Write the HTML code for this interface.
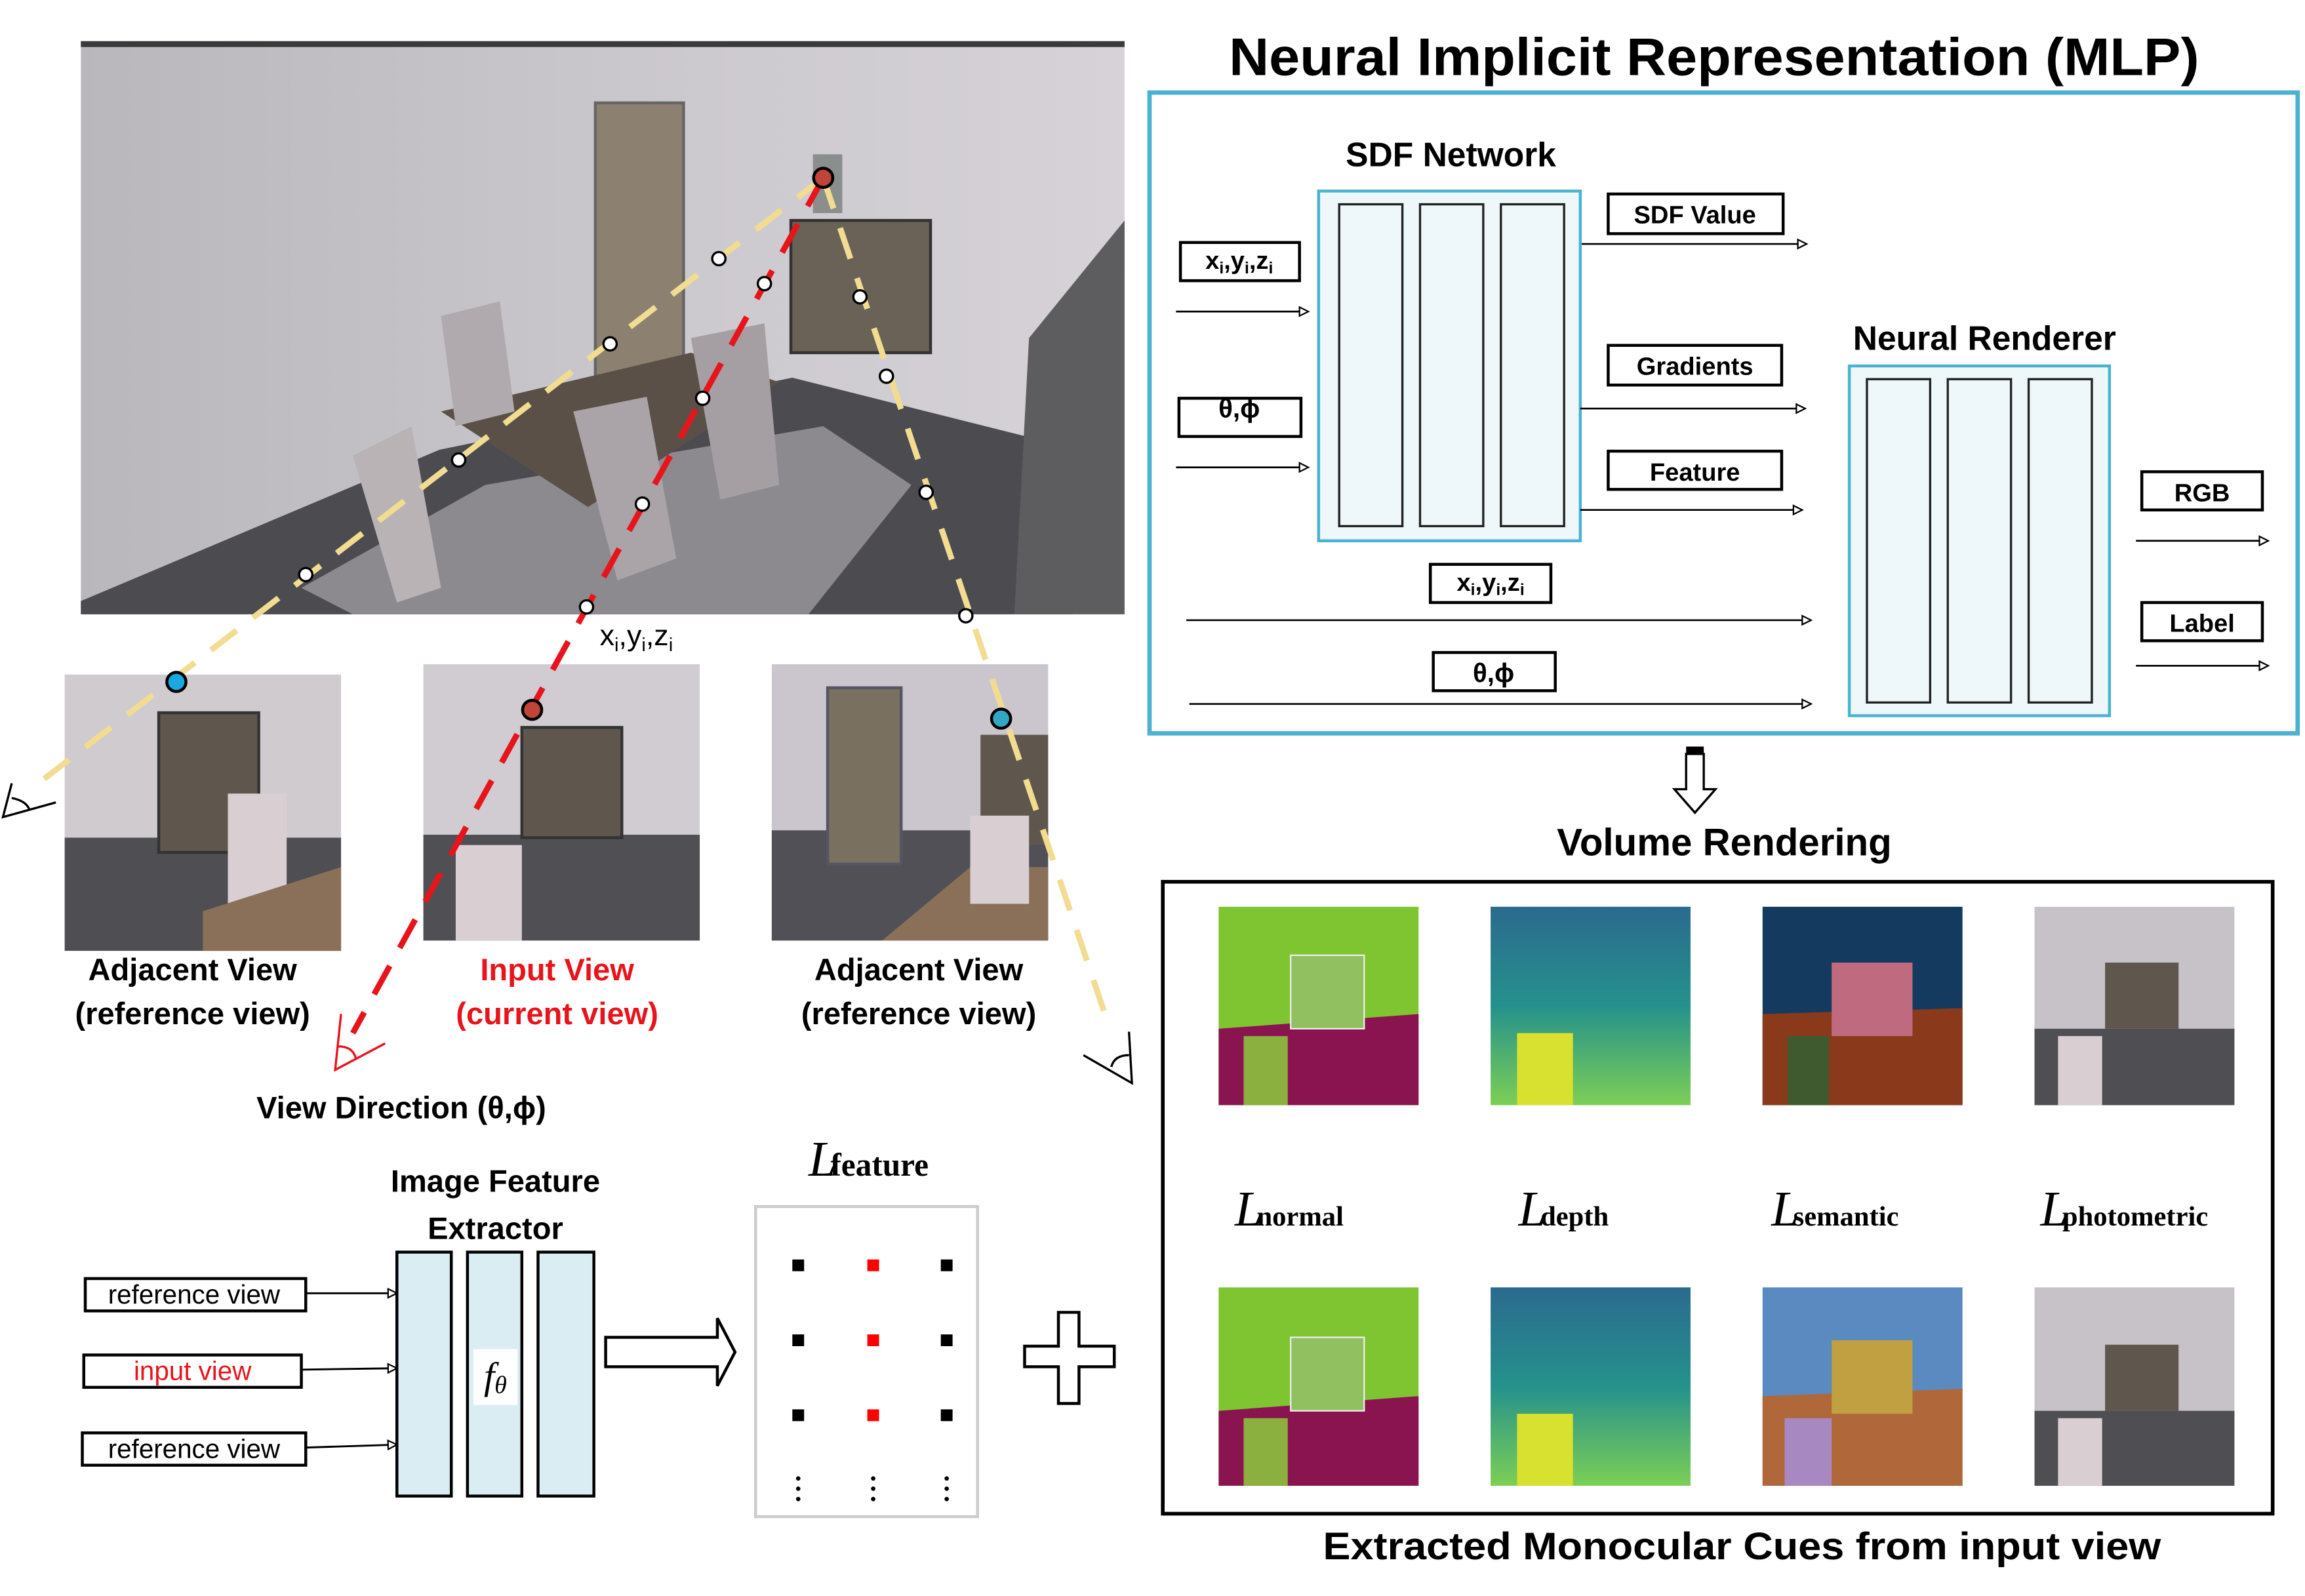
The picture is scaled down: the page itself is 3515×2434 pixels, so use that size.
<!DOCTYPE html>
<html><head><meta charset="utf-8"><style>
html,body{margin:0;padding:0;background:#fff}
svg{display:block}
text{font-family:"Liberation Sans",sans-serif}
text.s, text.s tspan{font-family:"Liberation Serif",serif}
</style></head><body>
<svg width="3515" height="2434" viewBox="0 0 1568 1086" preserveAspectRatio="none" xmlns="http://www.w3.org/2000/svg">
<defs>
<marker id="ah" markerWidth="8" markerHeight="8" refX="7" refY="4" orient="auto" markerUnits="userSpaceOnUse"><path d="M1,1 L7,4 L1,7 Z" fill="#fff" stroke="#000" stroke-width="1"/></marker>
<linearGradient id="wall" x1="0" y1="0" x2="1" y2="0"><stop offset="0" stop-color="#b9b7bb"/><stop offset="0.6" stop-color="#cdcacf"/><stop offset="1" stop-color="#d6d2d8"/></linearGradient>
<linearGradient id="dep" x1="0" y1="0" x2="0" y2="1"><stop offset="0" stop-color="#2b6a8e"/><stop offset="0.5" stop-color="#25918c"/><stop offset="1" stop-color="#7ccf55"/></linearGradient>
</defs>

<rect x="55" y="28" width="710" height="390" fill="url(#wall)"/>
<rect x="55" y="28" width="710" height="4" fill="#3a3a3c"/>
<polygon points="55,409 299,306 539,257 706,299 730,418 55,418" fill="#4b4b50"/>
<polygon points="700,230 765,150 765,418 690,418" fill="#5d5d60"/>
<polygon points="205,400 330,330 560,290 620,330 550,418 240,418" fill="#8c8a8e"/>
<rect x="405" y="70" width="60" height="190" fill="#8c8070" stroke="#666" stroke-width="2"/>
<polygon points="300,280 470,240 530,260 400,345" fill="#5a5048"/>
<polygon points="240,310 280,290 300,400 270,410" fill="#b9b3b6"/>
<polygon points="300,215 340,205 350,280 310,290" fill="#b0aaae"/>
<polygon points="390,280 440,270 460,380 420,395" fill="#aaa4a8"/>
<polygon points="470,230 520,220 530,330 490,340" fill="#a59fa3"/>
<rect x="538" y="150" width="95" height="90" fill="#6a6256" stroke="#333" stroke-width="2"/>
<rect x="553" y="105" width="20" height="40" fill="#8a8e8c"/>

<rect x="44" y="459" width="188" height="188" fill="#cfcbcf"/>
<rect x="44" y="570" width="188" height="77" fill="#4e4e53"/>
<rect x="108" y="485" width="68" height="95" fill="#5f574d" stroke="#333" stroke-width="2"/>
<rect x="155" y="540" width="40" height="80" fill="#d9cfd3"/>
<polygon points="138,620 232,590 232,647 138,647" fill="#8a7058"/>
<rect x="288" y="452" width="188" height="188" fill="#d0ccd2"/>
<rect x="288" y="568" width="188" height="72" fill="#505054"/>
<rect x="355" y="495" width="68" height="75" fill="#5f574d" stroke="#333" stroke-width="2"/>
<rect x="310" y="575" width="45" height="65" fill="#d9cfd3"/>
<rect x="525" y="452" width="188" height="188" fill="#cbc5cd"/>
<rect x="525" y="565" width="188" height="75" fill="#505056"/>
<rect x="563" y="468" width="50" height="120" fill="#7a7060" stroke="#556" stroke-width="2"/>
<rect x="667" y="500" width="46" height="75" fill="#5f574d"/>
<polygon points="600,640 660,590 713,590 713,640" fill="#8a7058"/>
<rect x="660" y="555" width="40" height="60" fill="#d9cfd3"/>

<g fill="none" stroke-width="4" stroke-dasharray="22,14">
<line x1="560" y1="121" x2="30" y2="530" stroke="#f2dc92"/>
<line x1="560" y1="121" x2="755" y2="700" stroke="#f2dc92"/>
<line x1="560" y1="121" x2="240" y2="703" stroke="#e8141c"/>
</g>
<g fill="#fff" stroke="#000" stroke-width="1.5">
<circle cx="489" cy="176" r="4.5"/><circle cx="415" cy="234" r="4.5"/><circle cx="312" cy="313" r="4.5"/><circle cx="208" cy="391" r="4.5"/>
<circle cx="520" cy="193" r="4.5"/><circle cx="478" cy="271" r="4.5"/><circle cx="437" cy="343" r="4.5"/><circle cx="399" cy="413" r="4.5"/>
<circle cx="585" cy="202" r="4.5"/><circle cx="603" cy="256" r="4.5"/><circle cx="630" cy="335" r="4.5"/><circle cx="657" cy="419" r="4.5"/>
</g>
<g stroke="#000" stroke-width="2">
<circle cx="560" cy="121" r="6.5" fill="#c0443a"/><circle cx="362" cy="483" r="6.5" fill="#c0443a"/>
<circle cx="120" cy="464" r="6.5" fill="#1aa8e0"/><circle cx="681" cy="489" r="6.5" fill="#30a8c4"/>
</g>
<g fill="none" stroke="#000" stroke-width="1.5">
<path d="M8,533 L2,556 L38,546 M8,543 Q18,545 20,551"/>
<path d="M232,690 L228,728 L262,710 M230,712 Q240,712 242,720" stroke="#e8141c"/>
<path d="M768,702 L770,737 L737,718 M768,718 Q758,718 756,726"/>
</g>
<text x="408" y="439" font-size="20">x<tspan font-size="13" dy="4">i</tspan><tspan dy="-4">,y</tspan><tspan font-size="13" dy="4">i</tspan><tspan dy="-4">,z</tspan><tspan font-size="13" dy="4">i</tspan></text>

<g font-size="21" text-anchor="middle" font-weight="bold">
<text x="131" y="667">Adjacent View</text><text x="131" y="697">(reference view)</text>
<text x="379" y="667" fill="#e8141c">Input View</text><text x="379" y="697" fill="#e8141c">(current view)</text>
<text x="625" y="667">Adjacent View</text><text x="625" y="697">(reference view)</text>
<text x="273" y="761">View Direction (θ,ϕ)</text>
<text x="337" y="811">Image Feature</text><text x="337" y="843">Extractor</text>
</g>

<g fill="#daedf3" stroke="#000" stroke-width="2">
<rect x="270" y="852" width="37" height="166"/><rect x="318" y="852" width="37" height="166"/><rect x="366" y="852" width="38" height="166"/>
</g>
<rect x="322" y="918" width="30" height="38" fill="#fff"/>
<text class="s" x="337" y="945" font-size="26" font-style="italic" text-anchor="middle">f<tspan font-size="17" dy="3">θ</tspan></text>
<g fill="#fff" stroke="#000" stroke-width="2">
<rect x="58" y="870" width="150" height="22"/><rect x="57" y="922" width="148" height="22"/><rect x="56" y="975" width="152" height="22"/>
</g>
<g font-size="18" text-anchor="middle"><text x="132" y="887">reference view</text><text x="131" y="939" fill="#e8141c">input view</text><text x="132" y="992">reference view</text></g>
<g stroke="#000" stroke-width="1.3" marker-end="url(#ah)">
<line x1="208" y1="880" x2="270" y2="880"/><line x1="205" y1="932" x2="270" y2="931"/><line x1="208" y1="985" x2="270" y2="983"/>
</g>
<path d="M412,910 L488,910 L488,897 L500,920 L488,943 L488,930 L412,930 Z" fill="#fff" stroke="#000" stroke-width="2"/>
<rect x="514" y="821" width="151" height="211" fill="#fff" stroke="#ccc" stroke-width="2"/>
<g fill="#000"><rect x="539" y="857" width="8" height="8"/><rect x="640" y="857" width="8" height="8"/><rect x="539" y="908" width="8" height="8"/><rect x="640" y="908" width="8" height="8"/><rect x="539" y="959" width="8" height="8"/><rect x="640" y="959" width="8" height="8"/></g>
<g fill="#f00"><rect x="590" y="857" width="8" height="8"/><rect x="590" y="908" width="8" height="8"/><rect x="590" y="959" width="8" height="8"/></g>
<g fill="#000"><circle cx="543" cy="1006" r="1.5"/><circle cx="543" cy="1013" r="1.5"/><circle cx="543" cy="1020" r="1.5"/><circle cx="594" cy="1006" r="1.5"/><circle cx="594" cy="1013" r="1.5"/><circle cx="594" cy="1020" r="1.5"/><circle cx="644" cy="1006" r="1.5"/><circle cx="644" cy="1013" r="1.5"/><circle cx="644" cy="1020" r="1.5"/></g>
<text class="s" x="550" y="800" font-size="22" font-weight="bold"><tspan font-size="34" font-style="italic" font-weight="normal">L</tspan><tspan dx="-4">feature</tspan></text>
<path d="M720,893 L734,893 L734,916 L758,916 L758,930 L734,930 L734,955 L720,955 L720,930 L697,930 L697,916 L720,916 Z" fill="#fff" stroke="#000" stroke-width="2"/>

<text x="1166" y="51" font-size="36" font-weight="bold" text-anchor="middle" textLength="660" lengthAdjust="spacingAndGlyphs">Neural Implicit Representation (MLP)</text>
<rect x="782" y="63" width="781" height="436" fill="#fff" stroke="#4bb3d0" stroke-width="3"/>
<text x="987" y="113" font-size="23" font-weight="bold" text-anchor="middle">SDF Network</text>
<text x="1350" y="238" font-size="23" font-weight="bold" text-anchor="middle">Neural Renderer</text>
<rect x="897" y="130" width="178" height="238" fill="#eef7f9" stroke="#4bb3d0" stroke-width="2"/>
<g fill="#eef7f9" stroke="#222" stroke-width="1.5">
<rect x="911" y="139" width="43" height="219"/><rect x="966" y="139" width="43" height="219"/><rect x="1021" y="139" width="43" height="219"/>
</g>
<rect x="1258" y="249" width="177" height="238" fill="#eef7f9" stroke="#4bb3d0" stroke-width="2"/>
<g fill="#eef7f9" stroke="#222" stroke-width="1.5">
<rect x="1270" y="258" width="43" height="220"/><rect x="1325" y="258" width="43" height="220"/><rect x="1380" y="258" width="43" height="220"/>
</g>
<g fill="#fff" stroke="#000" stroke-width="2">
<rect x="1094" y="132" width="119" height="27"/><rect x="1094" y="235" width="118" height="27"/><rect x="1094" y="307" width="118" height="26"/>
<rect x="803" y="165" width="81" height="26"/><rect x="802" y="271" width="83" height="26"/><rect x="973" y="384" width="82" height="26"/><rect x="975" y="444" width="83" height="26"/>
<rect x="1457" y="321" width="82" height="26"/><rect x="1457" y="410" width="82" height="26"/>
</g>
<g font-size="17" text-anchor="middle" font-weight="bold">
<text x="1153" y="152">SDF Value</text><text x="1153" y="255">Gradients</text><text x="1153" y="327">Feature</text>
<text x="843" y="284" font-size="18">θ,ϕ</text><text x="1016" y="464" font-size="18">θ,ϕ</text>
<text x="1498" y="341">RGB</text><text x="1498" y="430">Label</text>
<text x="843" y="183">x<tspan font-size="11" dy="3">i</tspan><tspan dy="-3">,y</tspan><tspan font-size="11" dy="3">i</tspan><tspan dy="-3">,z</tspan><tspan font-size="11" dy="3">i</tspan></text>
<text x="1014" y="402">x<tspan font-size="11" dy="3">i</tspan><tspan dy="-3">,y</tspan><tspan font-size="11" dy="3">i</tspan><tspan dy="-3">,z</tspan><tspan font-size="11" dy="3">i</tspan></text>
</g>
<g stroke="#000" stroke-width="1.2" marker-end="url(#ah)">
<line x1="800" y1="212" x2="890" y2="212"/><line x1="800" y1="318" x2="890" y2="318"/>
<line x1="1076" y1="166" x2="1229" y2="166"/><line x1="1075" y1="278" x2="1228" y2="278"/><line x1="1075" y1="347" x2="1226" y2="347"/>
<line x1="807" y1="422" x2="1232" y2="422"/><line x1="809" y1="479" x2="1232" y2="479"/>
<line x1="1453" y1="368" x2="1543" y2="368"/><line x1="1453" y1="453" x2="1543" y2="453"/>
</g>
<rect x="1147" y="508" width="12" height="5" fill="#000"/>
<path d="M1147,513 L1159,513 L1159,537 L1167,537 L1153,553 L1139,537 L1147,537 Z" fill="#fff" stroke="#000" stroke-width="1.5"/>
<text x="1173" y="582" font-size="26" font-weight="bold" text-anchor="middle">Volume Rendering</text>

<rect x="791" y="600" width="755" height="430" fill="#fff" stroke="#000" stroke-width="2.5"/>
<g>
<rect x="829" y="617" width="136" height="135" fill="#7fc531"/><polygon points="829,700 965,690 965,752 829,752" fill="#8a1450"/><rect x="846" y="705" width="30" height="47" fill="#8bb040"/><rect x="878" y="650" width="50" height="50" fill="#90c060" stroke="#eee"/>
<rect x="1014" y="617" width="136" height="135" fill="url(#dep)"/><rect x="1032" y="703" width="38" height="49" fill="#d8e030"/>
<rect x="1199" y="617" width="136" height="135" fill="#153a60"/><polygon points="1199,690 1335,686 1335,752 1199,752" fill="#8a3a1a"/><rect x="1246" y="655" width="55" height="50" fill="#c06a80"/><rect x="1216" y="705" width="28" height="47" fill="#405a30"/>
<rect x="1384" y="617" width="136" height="135" fill="#c7c2c8"/><rect x="1384" y="700" width="136" height="52" fill="#4e4e53"/><rect x="1432" y="655" width="50" height="45" fill="#5f574d"/><rect x="1400" y="705" width="30" height="47" fill="#d9cfd3"/>

<rect x="829" y="876" width="136" height="135" fill="#7fc531"/><polygon points="829,960 965,950 965,1011 829,1011" fill="#8a1450"/><rect x="846" y="965" width="30" height="46" fill="#8bb040"/><rect x="878" y="910" width="50" height="50" fill="#90c060" stroke="#eee"/>
<rect x="1014" y="876" width="136" height="135" fill="url(#dep)"/><rect x="1032" y="962" width="38" height="49" fill="#d8e030"/>
<rect x="1199" y="876" width="136" height="135" fill="#5a8ac0"/><polygon points="1199,950 1335,945 1335,1011 1199,1011" fill="#b0683a"/><rect x="1246" y="912" width="55" height="50" fill="#c0a040"/><rect x="1214" y="965" width="32" height="46" fill="#a888c0"/>
<rect x="1384" y="876" width="136" height="135" fill="#c7c2c8"/><rect x="1384" y="960" width="136" height="51" fill="#4e4e53"/><rect x="1432" y="915" width="50" height="45" fill="#5f574d"/><rect x="1400" y="965" width="30" height="46" fill="#d9cfd3"/>
</g>
<g font-size="19" font-weight="bold">
<text class="s" x="840" y="834"><tspan font-size="34" font-style="italic" font-weight="normal">L</tspan><tspan dx="-4">normal</tspan></text>
<text class="s" x="1033" y="834"><tspan font-size="34" font-style="italic" font-weight="normal">L</tspan><tspan dx="-4">depth</tspan></text>
<text class="s" x="1205" y="834"><tspan font-size="34" font-style="italic" font-weight="normal">L</tspan><tspan dx="-4">semantic</tspan></text>
<text class="s" x="1388" y="834"><tspan font-size="34" font-style="italic" font-weight="normal">L</tspan><tspan dx="-4">photometric</tspan></text>
</g>
<text x="1185" y="1061" font-size="26" font-weight="bold" text-anchor="middle" textLength="570" lengthAdjust="spacingAndGlyphs">Extracted Monocular Cues from input view</text>
</svg>
</body></html>
